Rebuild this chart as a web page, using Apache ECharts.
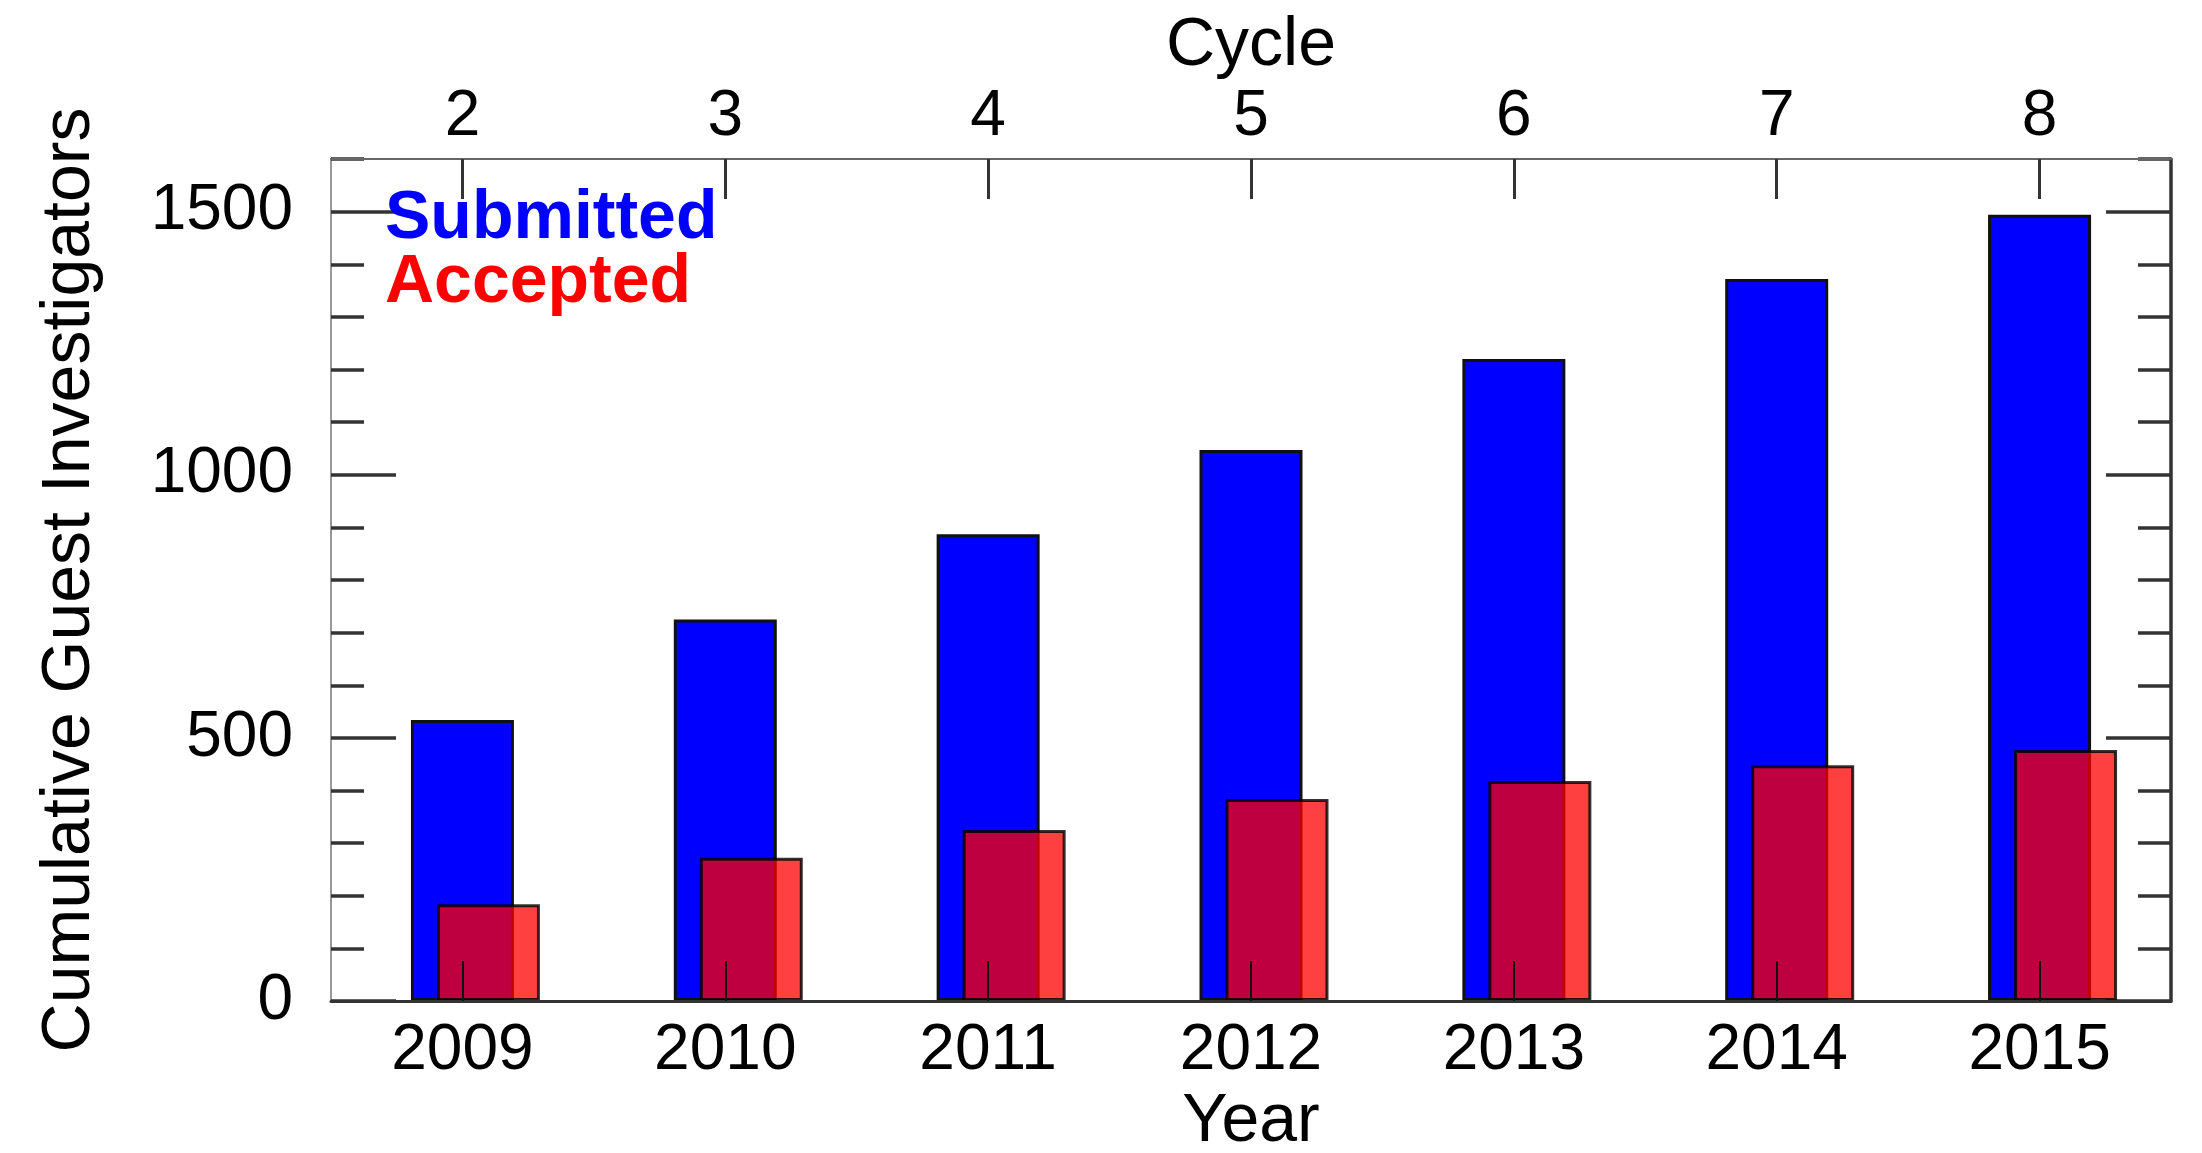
<!DOCTYPE html>
<html>
<head>
<meta charset="utf-8">
<script src="https://cdn.jsdelivr.net/npm/echarts@6/dist/echarts.min.js"></script>
<style>
  html, body { margin: 0; padding: 0; background: #fff; }
  #chart { width: 2202px; height: 1153px; }
</style>
</head>
<body>
<div id="chart"></div>
<script>
const years = ['2009', '2010', '2011', '2012', '2013', '2014', '2015'];
const cycles = ['2', '3', '4', '5', '6', '7', '8'];
const submitted = [534, 725, 887, 1047, 1220, 1372, 1494];
const accepted = [184, 272, 325, 384, 418, 448, 477];
const yMajorTicks = [0, 500, 1000, 1500];
const yMin = 0, yMax = 1600, yMinorStep = 100, yMajorStep = 500;

const FONT = 'Liberation Sans';
const chart = echarts.init(document.getElementById('chart'), null, { renderer: 'canvas' });

const gridBase = { top: 159, width: 1840, height: 842, containLabel: false, outerBoundsMode: 'none' };

const option = {
  animation: false,
  backgroundColor: '#ffffff',
  textStyle: { fontFamily: FONT, color: '#000' },
  legend: {
    orient: 'vertical',
    left: 380,
    top: 185,
    padding: 0,
    itemGap: -4,
    itemWidth: 0,
    itemHeight: 0,
    icon: 'none',
    selectedMode: false,
    textStyle: { fontSize: 68, fontWeight: 'bold', fontFamily: FONT },
    data: [
      { name: 'Submitted', textStyle: { color: '#0000FF' } },
      { name: 'Accepted', textStyle: { color: '#FF0000' } }
    ]
  },
  grid: [
    Object.assign({ left: 331 }, gridBase),
    Object.assign({ left: 357 }, gridBase)
  ],
  xAxis: [
    {
      gridIndex: 0, type: 'category', data: years, position: 'bottom', z: 10,
      axisLine: { show: true, onZero: false, lineStyle: { color: '#333', width: 3 } },
      axisTick: { show: true, interval: 0, inside: true, length: 40, alignWithLabel: true, lineStyle: { color: '#111', width: 2 } },
      axisLabel: { show: true, interval: 0, fontSize: 64, margin: 18, color: '#000', fontFamily: FONT },
      name: 'Year', nameLocation: 'middle', nameGap: 87,
      nameTextStyle: { fontSize: 68, color: '#000', fontFamily: FONT }
    },
    {
      gridIndex: 0, type: 'category', data: cycles, position: 'top', z: 10,
      axisLine: { show: true, onZero: false, lineStyle: { color: '#666', width: 2 } },
      axisTick: { show: true, interval: 0, inside: true, length: 40, alignWithLabel: true, lineStyle: { color: '#333', width: 3 } },
      axisLabel: { show: true, interval: 0, fontSize: 64, margin: 10, color: '#000', fontFamily: FONT },
      name: 'Cycle', nameLocation: 'middle', nameGap: 75,
      nameTextStyle: { fontSize: 68, color: '#000', fontFamily: FONT }
    },
    { gridIndex: 1, type: 'category', data: years, show: false, axisLine: { onZero: false } }
  ],
  yAxis: [
    {
      gridIndex: 0, type: 'value', min: yMin, max: yMax, interval: yMinorStep, position: 'left',
      axisLine: { show: true, onZero: false, lineStyle: { color: '#999', width: 2 } },
      axisTick: { show: true, inside: true, length: 33, lineStyle: { color: '#333', width: 3.5 } },
      axisLabel: {
        fontSize: 64, margin: 38, color: '#000', fontFamily: FONT,
        formatter: v => (yMajorTicks.indexOf(v) >= 0 ? String(v) : '')
      },
      splitLine: { show: false },
      name: 'Cumulative Guest Investigators', nameLocation: 'middle', nameGap: 227,
      nameTextStyle: { fontSize: 68, color: '#000', fontFamily: FONT }
    },
    {
      gridIndex: 0, type: 'value', min: yMin, max: yMax, interval: yMajorStep, position: 'left',
      axisLine: { show: false, onZero: false },
      axisTick: { show: true, inside: true, length: 65, customValues: yMajorTicks, lineStyle: { color: '#333', width: 3.5 } },
      axisLabel: { show: false },
      splitLine: { show: false }
    },
    {
      gridIndex: 0, type: 'value', min: yMin, max: yMax, interval: yMinorStep, position: 'right',
      axisLine: { show: true, onZero: false, lineStyle: { color: '#333', width: 3.5 } },
      axisTick: { show: true, inside: true, length: 33, lineStyle: { color: '#333', width: 3.5 } },
      axisLabel: { show: false },
      splitLine: { show: false }
    },
    {
      gridIndex: 0, type: 'value', min: yMin, max: yMax, interval: yMajorStep, position: 'right',
      axisLine: { show: false, onZero: false },
      axisTick: { show: true, inside: true, length: 65, customValues: yMajorTicks, lineStyle: { color: '#333', width: 3.5 } },
      axisLabel: { show: false },
      splitLine: { show: false }
    },
    { gridIndex: 1, type: 'value', min: yMin, max: yMax, show: false, splitLine: { show: false } }
  ],
  series: [
    {
      name: 'Submitted', type: 'bar', xAxisIndex: 0, yAxisIndex: 0,
      data: submitted, barWidth: 103,
      itemStyle: { color: '#0000FF', borderColor: '#111', borderWidth: 3 }
    },
    {
      name: 'Accepted', type: 'bar', xAxisIndex: 2, yAxisIndex: 4,
      data: accepted, barWidth: 103,
      itemStyle: { color: 'rgba(255,0,0,0.75)', borderColor: 'rgba(0,0,0,0.8)', borderWidth: 3 }
    }
  ]
};

chart.setOption(option);
</script>
</body>
</html>
